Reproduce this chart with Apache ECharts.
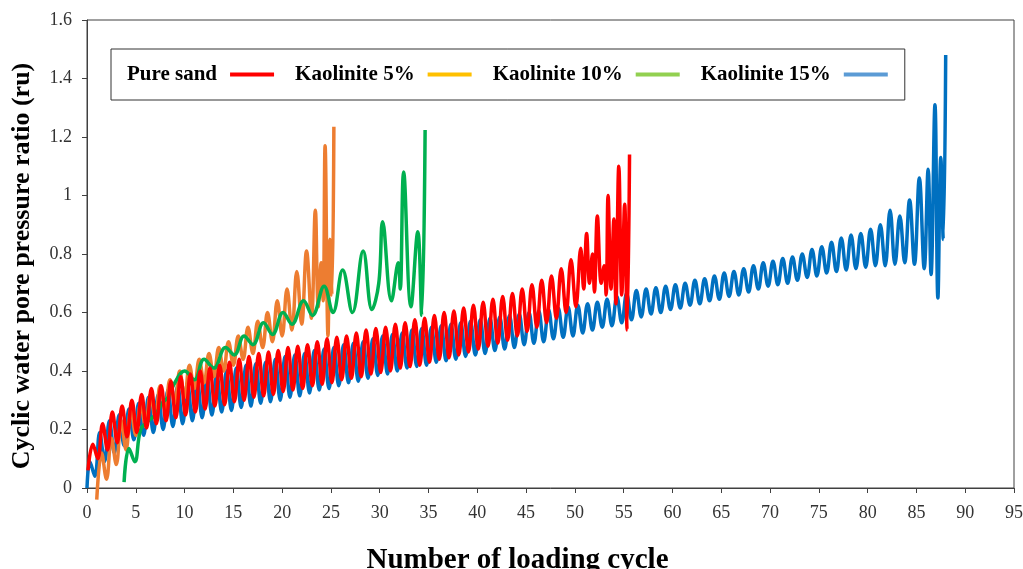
<!DOCTYPE html>
<html>
<head>
<meta charset="utf-8">
<script src="https://cdn.jsdelivr.net/npm/echarts@6/dist/echarts.min.js"></script>
<style>html,body{margin:0;padding:0;background:#fff;}#c{width:1023px;height:569px;}</style>
</head>
<body>
<div id="c"></div>
<script>
const seriesNames = ['Pure sand', 'Kaolinite 5%', 'Kaolinite 10%', 'Kaolinite 15%'];
const xTicks = {min: 0, max: 95, step: 5};
const yTicks = {min: 0, max: 1.6, step: 0.2};

// Pure sand (red): [cycle, ru]
const pureSand = [[0.1,0.06],[0.6,0.15],[1.1,0.10],[1.6,0.22],[2.1,0.13],[2.6,0.26],[3.1,0.155],[3.6,0.28],[4.1,0.175],[4.6,0.30],[5.1,0.19],[5.6,0.32],[6.1,0.205],[6.6,0.34],[7.1,0.22],[7.6,0.35],[8.1,0.23],[8.6,0.365],[9.1,0.24],[9.6,0.38],[10.1,0.25],[10.6,0.39],[11.1,0.26],[11.6,0.40],[12.1,0.27],[12.6,0.41],[13.1,0.28],[13.6,0.42],[14.1,0.285],[14.6,0.43],[15.1,0.295],[15.6,0.44],[16.1,0.30],[16.6,0.45],[17.1,0.31],[17.6,0.46],[18.1,0.315],[18.6,0.465],[19.1,0.32],[19.6,0.47],[20.1,0.33],[20.6,0.48],[21.1,0.335],[21.6,0.485],[22.1,0.34],[22.6,0.49],[23.1,0.35],[23.6,0.50],[24.1,0.355],[24.6,0.51],[25.1,0.36],[25.6,0.515],[26.1,0.37],[26.6,0.52],[27.1,0.375],[27.6,0.53],[28.1,0.38],[28.6,0.54],[29.1,0.39],[29.6,0.545],[30.1,0.395],[30.6,0.55],[31.1,0.40],[31.6,0.56],[32.1,0.41],[32.6,0.565],[33.1,0.415],[33.6,0.575],[34.1,0.42],[34.6,0.58],[35.1,0.43],[35.6,0.59],[36.1,0.44],[36.6,0.60],[37.1,0.445],[37.6,0.605],[38.1,0.455],[38.6,0.615],[39.1,0.465],[39.6,0.625],[40.1,0.475],[40.6,0.635],[41.1,0.485],[41.6,0.645],[42.1,0.495],[42.6,0.655],[43.1,0.505],[43.6,0.665],[44.1,0.52],[44.6,0.68],[45.1,0.535],[45.6,0.695],[46.1,0.55],[46.6,0.71],[47.1,0.565],[47.6,0.725],[48.1,0.58],[48.6,0.75],[49.1,0.60],[49.6,0.78],[50.1,0.62],[50.6,0.82],[50.9,0.68],[51.2,0.87],[51.5,0.70],[51.8,0.80],[52.0,0.67],[52.3,0.93],[52.7,0.70],[53.0,0.76],[53.2,0.66],[53.4,1.0],[53.7,0.68],[54.0,0.92],[54.2,0.63],[54.5,1.10],[54.8,0.66],[55.1,0.97],[55.35,0.54],[55.6,1.14]];

// Kaolinite 5% (orange)
const kaolinite5 = [[1.0,-0.04],[1.5,0.12],[2.0,0.03],[2.5,0.17],[3.0,0.08],[3.5,0.23],[4.0,0.13],[4.5,0.27],[5.0,0.18],[5.5,0.29],[6.0,0.21],[6.5,0.32],[7.0,0.24],[7.5,0.35],[8.0,0.27],[8.5,0.37],[9.0,0.29],[9.5,0.40],[10.0,0.31],[10.5,0.42],[11.0,0.34],[11.5,0.44],[12.0,0.36],[12.5,0.46],[13.0,0.38],[13.5,0.48],[14.0,0.40],[14.5,0.50],[15.0,0.42],[15.5,0.52],[16.0,0.44],[16.5,0.55],[17.0,0.46],[17.5,0.57],[18.0,0.48],[18.5,0.60],[19.0,0.50],[19.5,0.64],[20.0,0.52],[20.5,0.68],[21.0,0.54],[21.5,0.74],[22.0,0.56],[22.5,0.81],[23.0,0.58],[23.4,0.95],[23.7,0.62],[24.0,0.77],[24.2,0.64],[24.4,1.17],[24.7,0.52],[24.9,0.85],[25.1,0.66],[25.3,1.235]];

// Kaolinite 10% (green)
const kaolinite10 = [[3.8,0.02],[4.3,0.135],[4.9,0.09],[5.5,0.20],[6.3,0.23],[7.0,0.25],[7.7,0.29],[8.3,0.31],[9.0,0.36],[10.0,0.40],[11.0,0.37],[12.0,0.44],[13.0,0.41],[14.2,0.48],[15.1,0.455],[16.1,0.52],[17.0,0.49],[18.1,0.565],[19.0,0.525],[20.1,0.60],[21.0,0.56],[22.2,0.64],[23.1,0.59],[24.3,0.69],[25.2,0.60],[26.2,0.745],[27.2,0.60],[28.3,0.81],[29.2,0.61],[29.9,0.70],[30.3,0.91],[31.2,0.64],[31.9,0.77],[32.1,0.68],[32.45,1.08],[33.2,0.62],[33.9,0.876],[34.3,0.59],[34.65,1.224]];

// Kaolinite 15% (blue)
const kaolinite15 = [[0,0.0],[0.3,0.09],[0.8,0.04],[1.3,0.19],[1.8,0.09],[2.3,0.23],[2.8,0.12],[3.3,0.25],[3.8,0.145],[4.3,0.27],[4.8,0.165],[5.3,0.29],[5.8,0.18],[6.3,0.31],[6.8,0.19],[7.3,0.32],[7.8,0.20],[8.3,0.335],[8.8,0.21],[9.3,0.35],[9.8,0.22],[10.3,0.36],[10.8,0.23],[11.3,0.37],[11.8,0.24],[12.3,0.38],[12.8,0.25],[13.3,0.39],[13.8,0.26],[14.3,0.40],[14.8,0.265],[15.3,0.41],[15.8,0.275],[16.3,0.42],[16.8,0.28],[17.3,0.425],[17.8,0.29],[18.3,0.43],[18.8,0.295],[19.3,0.44],[19.8,0.30],[20.3,0.45],[20.8,0.31],[21.3,0.455],[21.8,0.315],[22.3,0.46],[22.8,0.325],[23.3,0.47],[23.8,0.335],[24.3,0.475],[24.8,0.34],[25.3,0.48],[25.8,0.35],[26.3,0.49],[26.8,0.36],[27.3,0.495],[27.8,0.365],[28.3,0.50],[28.8,0.375],[29.3,0.51],[29.8,0.385],[30.3,0.52],[30.8,0.39],[31.3,0.525],[31.8,0.40],[32.3,0.53],[32.8,0.41],[33.3,0.54],[33.8,0.415],[34.3,0.545],[34.8,0.42],[35.3,0.55],[35.8,0.43],[36.3,0.555],[36.8,0.435],[37.3,0.56],[37.8,0.44],[38.3,0.565],[38.8,0.45],[39.3,0.57],[39.8,0.455],[40.3,0.575],[40.8,0.46],[41.3,0.58],[41.8,0.47],[42.3,0.585],[42.8,0.475],[43.3,0.59],[43.8,0.48],[44.3,0.595],[44.8,0.49],[45.3,0.60],[45.8,0.495],[46.3,0.605],[46.8,0.50],[47.3,0.61],[47.8,0.51],[48.3,0.615],[48.8,0.515],[49.3,0.62],[49.8,0.52],[50.3,0.625],[50.8,0.53],[51.3,0.63],[51.8,0.54],[52.3,0.635],[52.8,0.55],[53.3,0.645],[53.8,0.555],[54.3,0.655],[54.8,0.565],[55.3,0.665],[55.8,0.575],[56.3,0.675],[56.8,0.585],[57.3,0.68],[57.8,0.595],[58.3,0.685],[58.8,0.60],[59.3,0.69],[59.8,0.61],[60.3,0.695],[60.8,0.615],[61.3,0.70],[61.8,0.625],[62.3,0.71],[62.8,0.63],[63.3,0.715],[63.8,0.64],[64.3,0.725],[64.8,0.645],[65.3,0.735],[65.8,0.655],[66.3,0.74],[66.8,0.66],[67.3,0.75],[67.8,0.67],[68.3,0.76],[68.8,0.68],[69.3,0.77],[69.8,0.69],[70.3,0.775],[70.8,0.695],[71.3,0.785],[71.8,0.70],[72.3,0.79],[72.8,0.71],[73.3,0.80],[73.8,0.72],[74.3,0.815],[74.8,0.725],[75.3,0.825],[75.8,0.735],[76.3,0.84],[76.8,0.74],[77.3,0.855],[77.8,0.745],[78.3,0.865],[78.8,0.75],[79.3,0.87],[79.8,0.755],[80.3,0.885],[80.8,0.76],[81.3,0.90],[81.8,0.76],[82.3,0.95],[82.8,0.765],[83.3,0.93],[83.8,0.77],[84.3,0.985],[84.8,0.765],[85.3,1.06],[85.8,0.75],[86.2,1.09],[86.5,0.73],[86.9,1.31],[87.2,0.65],[87.5,1.13],[87.75,0.85],[88.0,1.48]];

const lineColors = {'Pure sand':'#FF0000','Kaolinite 5%':'#ED7D31','Kaolinite 10%':'#00B050','Kaolinite 15%':'#0070C0'};
const legendColors = {'Pure sand':'#FF0000','Kaolinite 5%':'#FFC000','Kaolinite 10%':'#92D050','Kaolinite 15%':'#5B9BD5'};

const serif = 'Liberation Serif, Times New Roman, serif';
const chart = echarts.init(document.getElementById('c'), null, {renderer: 'canvas'});

function mk(name, data) {
  return {
    name: name, type: 'line', data: data, symbol: 'none', smooth: 0.4, clip: false,
    lineStyle: {color: lineColors[name], width: 3.5},
    itemStyle: {color: lineColors[name]},
    emphasis: {disabled: true}
  };
}

chart.setOption({
  animation: false,
  backgroundColor: '#fff',
  grid: {left: 87, right: 9, top: 20, bottom: 81, outerBoundsMode: 'none', containLabel: false,
         show: true, borderColor: '#404040', borderWidth: 1, backgroundColor: 'transparent'},
  legend: {
    left: 111, top: 49,
    padding: [15, 17, 15, 16],
    borderColor: '#333', borderWidth: 1,
    align: 'right',
    icon: 'rect', itemWidth: 44, itemHeight: 4, itemGap: 21,
    textStyle: {fontFamily: serif, fontWeight: 'bold', fontSize: 21, color: '#000', padding: [0, 8, 0, 0]},
    data: seriesNames.map(n => ({name: n, itemStyle: {color: legendColors[n]}, lineStyle: {color: legendColors[n]}}))
  },
  xAxis: {
    type: 'value', min: xTicks.min, max: xTicks.max, interval: xTicks.step,
    name: 'Number of loading cycle', nameLocation: 'middle', nameGap: 58,
    nameTextStyle: {fontFamily: serif, fontWeight: 'bold', fontSize: 29, color: '#000', padding: [0, 66, 0, 0]},
    axisLine: {show: true, lineStyle: {color: '#404040', width: 1}},
    axisTick: {show: true, length: 5, inside: false, lineStyle: {color: '#404040'}},
    axisLabel: {fontFamily: serif, fontSize: 18, color: '#333', margin: 16},
    splitLine: {show: false}
  },
  yAxis: {
    type: 'value', min: yTicks.min, max: yTicks.max, interval: yTicks.step,
    name: 'Cyclic water pore pressure ratio (ru)', nameLocation: 'middle', nameGap: 52,
    nameTextStyle: {fontFamily: serif, fontWeight: 'bold', fontSize: 26, color: '#000', padding: [0, 24, 0, 0]},
    axisLine: {show: true, lineStyle: {color: '#404040', width: 1}},
    axisTick: {show: true, length: 5, inside: false, lineStyle: {color: '#404040'}},
    axisLabel: {fontFamily: serif, fontSize: 18, color: '#333', margin: 15},
    splitLine: {show: false}
  },
  series: [
    mk('Kaolinite 15%', kaolinite15),
    mk('Kaolinite 5%', kaolinite5),
    mk('Kaolinite 10%', kaolinite10),
    mk('Pure sand', pureSand)
  ]
});
</script>
</body>
</html>
